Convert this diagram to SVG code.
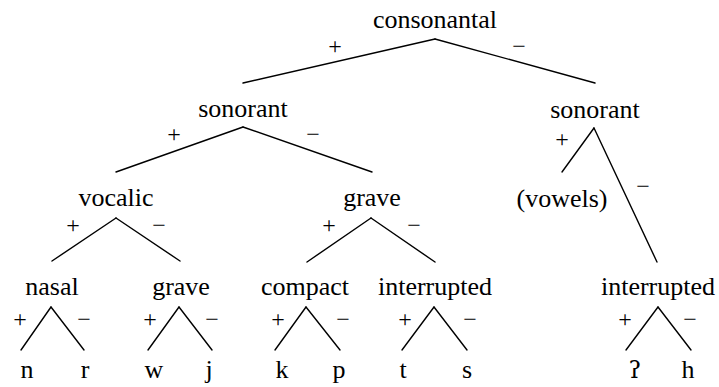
<svg xmlns="http://www.w3.org/2000/svg" width="719" height="387" viewBox="0 0 719 387">
<rect width="719" height="387" fill="#fff"/>
<g id="connectors" stroke="#000" stroke-width="1.4" stroke-linecap="round">
<line x1="435" y1="39" x2="243" y2="83"/>
<line x1="435" y1="39" x2="595" y2="83"/>
<line x1="243" y1="127" x2="116" y2="172"/>
<line x1="243" y1="127" x2="372" y2="172"/>
<line x1="594" y1="128" x2="562" y2="172"/>
<line x1="594" y1="128" x2="657" y2="262"/>
<line x1="116" y1="218" x2="52" y2="261"/>
<line x1="116" y1="218" x2="180" y2="261"/>
<line x1="371" y1="218" x2="307" y2="262"/>
<line x1="371" y1="218" x2="435" y2="262"/>
<line x1="51" y1="307" x2="21" y2="350"/>
<line x1="51" y1="307" x2="84" y2="350"/>
<line x1="179" y1="307" x2="148" y2="350"/>
<line x1="179" y1="307" x2="212" y2="350"/>
<line x1="306" y1="307" x2="275" y2="350"/>
<line x1="306" y1="307" x2="340" y2="350"/>
<line x1="434" y1="307" x2="402" y2="350"/>
<line x1="434" y1="307" x2="467" y2="350"/>
<line x1="658" y1="307" x2="626" y2="350"/>
<line x1="658" y1="307" x2="691" y2="350"/>
</g>
<g id="signs" font-family="Liberation Serif" font-size="24" text-anchor="middle" fill="#000">
<text x="335" y="54">+</text><text x="519" y="54">−</text>
<text x="174" y="142">+</text><text x="313" y="142">−</text>
<text x="562" y="147">+</text><text x="643" y="194">−</text>
<text x="73" y="233">+</text><text x="159" y="233">−</text>
<text x="329" y="233">+</text><text x="414" y="233">−</text>
<text x="20" y="327">+</text><text x="84" y="327">−</text>
<text x="150" y="327">+</text><text x="212" y="327">−</text>
<text x="278" y="327">+</text><text x="343" y="327">−</text>
<text x="405" y="327">+</text><text x="470" y="327">−</text>
<text x="625" y="327">+</text><text x="690" y="327">−</text>
</g>
<g font-family="Liberation Serif" font-size="26" text-anchor="middle" fill="#000">
<g id="consonantal"><text x="435" y="28">consonantal</text></g>
<g id="sonorant-plus"><text x="243" y="117">sonorant</text></g>
<g id="sonorant-minus"><text x="595" y="118">sonorant</text></g>
<g id="vocalic"><text x="116" y="206">vocalic</text></g>
<g id="grave-mid"><text x="372" y="206">grave</text></g>
<g id="vowels"><text x="562" y="207">(vowels)</text></g>
<g id="nasal"><text x="52" y="295">nasal</text></g>
<g id="grave-low"><text x="181" y="295">grave</text></g>
<g id="compact"><text x="305" y="295">compact</text></g>
<g id="interrupted-1"><text x="435" y="295">interrupted</text></g>
<g id="interrupted-2"><text x="658" y="295">interrupted</text></g>
<g id="leaves">
<text x="27" y="378">n</text><text x="85" y="378">r</text>
<text x="154" y="378">w</text><text x="209" y="378">j</text>
<text x="282" y="378">k</text><text x="339" y="378">p</text>
<text x="403" y="378">t</text><text x="467" y="378">s</text>
<text x="635" y="378" font-family="DejaVu Serif" font-size="24">ʔ</text><text x="688" y="378">h</text>
</g>
</g>
</svg>
